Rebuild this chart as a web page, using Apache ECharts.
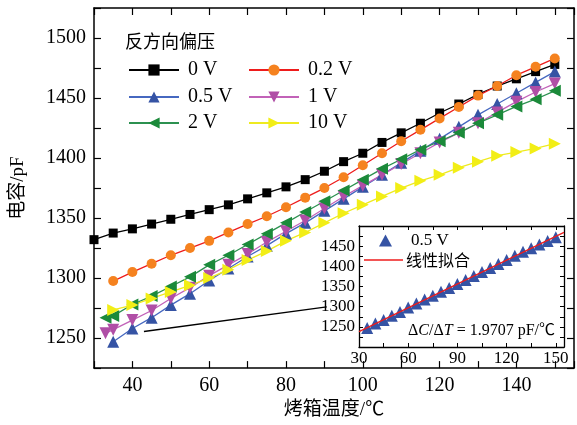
<!DOCTYPE html>
<html><head><meta charset="utf-8">
<script src="https://cdn.jsdelivr.net/npm/echarts@6/dist/echarts.min.js"></script>
<style>html,body{margin:0;padding:0;background:#fff}#c{width:577px;height:425px}</style>
</head><body><div id="c"></div>
<script>
// ---- data ----
const tempsMain = [35,40,45,50,55,60,65,70,75,80,85,90,95,100,105,110,115,120,125,130,135,140,145,150];
const temps0V = [30,35,40,45,50,55,60,65,70,75,80,85,90,95,100,105,110,115,120,125,130,135,140,145,150];
const temps1V = [33,35,40,45,50,55,60,65,70,75,80,85,90,95,100,105,110,115,120,125,130,135,140,145,150];
const temps2V = [33,35,40,45,50,55,60,65,70,75,80,85,90,95,100,105,110,115,120,125,130,135,140,145,150];
const c0V  = [1332,1337.5,1341,1345,1349,1353,1357,1361,1366,1371,1376,1382,1389,1397,1404,1413,1421,1429,1437.5,1445,1453,1460,1466,1472,1478];
const c02V = [1297.5,1305,1312,1319,1325,1331,1338,1345,1351.5,1359,1367,1375,1384,1394,1404,1414,1423.5,1433,1442.5,1452,1460,1469,1476,1483];
const c05V = [1247,1258,1267,1277.5,1287,1298,1308,1318,1327,1337,1346,1356,1366,1376,1386,1396,1406,1416,1426,1436,1445,1454,1463,1472];
const c1V  = [1254,1257,1265,1273,1283,1292,1302,1311,1320,1330,1339,1348,1358,1368,1377,1386,1395,1404,1413,1421,1429,1438,1447,1455,1462];
const c2V  = [1267,1268.5,1278,1285,1293,1301,1311,1319,1328,1337,1346,1355,1364,1373,1382,1391,1399,1407,1414,1421,1429,1436,1443,1449,1456];
const c10V = [1273.5,1277.5,1283,1288.5,1294,1300,1307,1315,1322.5,1331,1338,1346,1354,1361,1368,1375,1381,1386,1392,1397,1402,1405,1408,1412];
const fitX = [30,155];
const fitY = [1238,1484.3];
const arrowFrom = [43,1255.5];
const arrowTo = [90.6,1276];
const seriesNames = ['0 V','0.2 V','0.5 V','1 V','2 V','10 V'];
const legendTitle = '反方向偏压';
const xName = '烤箱温度/℃';
const yName = '电容/pF';

const SERIF = '"Liberation Serif","Noto Sans CJK SC",serif';
const CJK = '"Noto Sans CJK SC",sans-serif';
const zip = (xs, ys) => xs.map((x,i)=>[x, ys[i]]);

function mainAxis(extra){
  return Object.assign({
    type:'value', gridIndex:0,
    axisLine:{show:true,onZero:false,lineStyle:{color:'#000',width:1.5}},
    axisTick:{show:true,inside:true,length:7,lineStyle:{color:'#000',width:1.2}},
    splitLine:{show:false}
  }, extra);
}
function insetAxis(extra){
  return Object.assign({
    type:'value', gridIndex:1,
    axisLine:{show:true,onZero:false,lineStyle:{color:'#000',width:1.3}},
    axisTick:{show:true,inside:true,length:4,lineStyle:{color:'#000',width:1}},
    splitLine:{show:false}
  }, extra);
}

const styles = [
  {sym:'rect', rot:0, size:9, mc:'#000000', lc:'#000000'},
  {sym:'circle', rot:0, size:10, mc:'#f5821f', lc:'#ee1c1c'},
  {sym:'triangle', rot:0, size:12, mc:'#3553a4', lc:'#4668c0'},
  {sym:'triangle', rot:180, size:12, mc:'#b04ea6', lc:'#c262b8'},
  {sym:'triangle', rot:90, size:12, mc:'#1b8a3a', lc:'#2c9150'},
  {sym:'triangle', rot:-90, size:12, mc:'#f2ee16', lc:'#eeea20'}
];
const xData = [temps0V, tempsMain, tempsMain, temps1V, temps2V, tempsMain];
const yData = [c0V, c02V, c05V, c1V, c2V, c10V];

const series = seriesNames.map((n,i)=>({
  name:n, type:'line', xAxisIndex:0, yAxisIndex:0,
  data: zip(xData[i], yData[i]),
  symbol: styles[i].sym, symbolSize: styles[i].size, symbolRotate: styles[i].rot,
  itemStyle:{color:styles[i].mc, opacity:1},
  lineStyle:{color:styles[i].lc, width:1.3},
  animation:false, z: 3 + (i===1?2:0)
}));
series[0].markLine = {
  silent:true, symbol:['none','arrow'], symbolSize:[0,10],
  label:{show:false},
  lineStyle:{color:'#000',width:1.3,type:'solid'},
  data:[[{coord:arrowFrom},{coord:arrowTo}]]
};
series.push({
  name:'0.5 V ', type:'scatter', xAxisIndex:2, yAxisIndex:2,
  data: zip(tempsMain, c05V), symbol:'triangle', symbolSize:12,
  itemStyle:{color:'#3553a4', opacity:1}, animation:false, z:5
});
series.push({
  name:'线性拟合', type:'line', xAxisIndex:2, yAxisIndex:2,
  data: zip(fitX, fitY), symbol:'none', showSymbol:false,
  lineStyle:{color:'#ee1c1c', width:1.3}, itemStyle:{color:'#ee1c1c'}, animation:false, z:6
});

const legendPos = [[128,60],[248,60],[128,87],[248,87],[128,113],[248,113]];
const legends = seriesNames.map((n,i)=>({
  data:[n], left:legendPos[i][0], top:legendPos[i][1], itemWidth:50, itemHeight:14, itemGap:0, padding:0,
  textStyle:{fontFamily:SERIF, fontSize:20, color:'#000', padding:[0,0,0,4]},
  selectedMode:false
}));
legends.push({
  data:['0.5 V '], left:379, top:232, icon:'triangle', itemWidth:13, itemHeight:12, padding:0,
  itemStyle:{opacity:1},
  textStyle:{fontFamily:SERIF, fontSize:17, color:'#000', padding:[0,0,0,14]}, selectedMode:false
});
legends.push({
  data:['线性拟合'], left:364, top:252, icon:'rect', itemWidth:39, itemHeight:1.5, padding:0,
  itemStyle:{color:'#ee1c1c'},
  textStyle:{fontFamily:CJK, fontSize:16, color:'#000', padding:[0,0,0,-2]}, selectedMode:false
});

const option = {
  backgroundColor:'#fff',
  animation:false,
  title:{text:legendTitle, left:120, top:27, textStyle:{fontFamily:CJK, fontSize:18, fontWeight:'normal', color:'#000'}},
  grid:[
    {left:94, right:1, top:8, bottom:53},
    {left:359, top:226, width:205, height:121, show:true, backgroundColor:'#fff', borderWidth:0}
  ],
  legend: legends,
  xAxis:[
    mainAxis({position:'bottom', min:30, max:155, interval:10,
      axisLabel:{margin:8, fontFamily:SERIF, fontSize:20, color:'#000',
        formatter:v=> (v%20===0 && v>=40 && v<=140) ? String(v) : ''},
      name:xName, nameLocation:'middle', nameGap:27,
      nameTextStyle:{fontFamily:SERIF, fontSize:19, color:'#000'}}),
    mainAxis({position:'top', min:30, max:155, interval:10, axisLabel:{show:false}}),
    insetAxis({position:'bottom', min:30, max:155, interval:15,
      axisLabel:{margin:3, fontFamily:SERIF, fontSize:17, color:'#000',
        formatter:v=> (v%30===0 && v<=150) ? String(v) : ''}}),
    insetAxis({position:'top', min:30, max:155, interval:15, axisLabel:{show:false}})
  ],
  yAxis:[
    mainAxis({position:'left', min:1225, max:1525, interval:25,
      axisLabel:{margin:8, fontFamily:SERIF, fontSize:20, color:'#000',
        formatter:v=> (v%50===0) ? String(v) : ''},
      name:yName, nameLocation:'middle', nameGap:66, nameRotate:90,
      nameTextStyle:{fontFamily:SERIF, fontSize:19, color:'#000'}}),
    mainAxis({position:'right', min:1225, max:1525, interval:25, axisLabel:{show:false}}),
    insetAxis({position:'left', min:1200, max:1500, interval:25,
      axisLabel:{margin:4, fontFamily:SERIF, fontSize:17, color:'#000',
        formatter:v=> (v%50===0 && v>=1250 && v<=1450) ? String(v) : ''}}),
    insetAxis({position:'right', min:1200, max:1500, interval:25, axisLabel:{show:false}})
  ],
  graphic:[{
    type:'text', right:577-555, top:323, z:100,
    style:{
      text:'Δ{i|C}/Δ{i|T} = 1.9707 pF/℃',
      rich:{i:{fontStyle:'italic', fontFamily:SERIF, fontSize:16, fill:'#000'}},
      fontFamily:SERIF, fontSize:16, fill:'#000'
    }
  }],
  series: series
};
const chart = echarts.init(document.getElementById('c'), null, {renderer:'canvas'});
chart.setOption(option);
</script></body></html>
